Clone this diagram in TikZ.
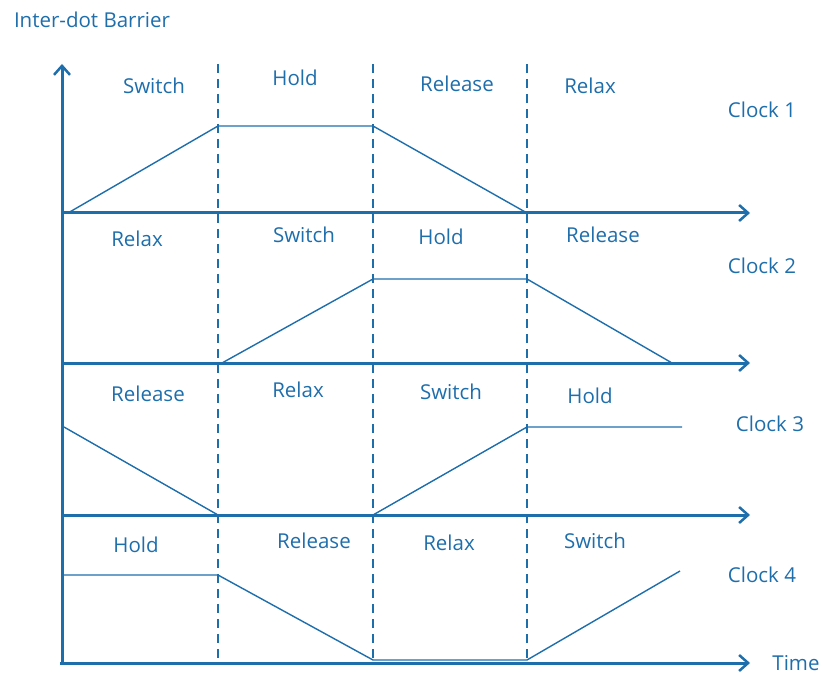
\documentclass[tikz,border=0pt]{standalone}
\usepackage{fontspec}
\setmainfont{Open Sans}
\usetikzlibrary{arrows.meta}
\definecolor{barrierblue}{RGB}{30,110,172}

\begin{document}
\begin{tikzpicture}[x=1pt,y=-1pt,
    axis/.style={barrierblue, line width=3pt, -{Straight Barb[length=9pt,width=16pt,line width=2.5pt]}},
    divider/.style={barrierblue, line width=1.8pt, dash pattern=on 9pt off 6pt},
    barrier/.style={barrierblue, line width=1.4pt},
    phase/.style={text=barrierblue, font=\fontsize{20.5}{24}\selectfont},
    clocklabel/.style={text=barrierblue, font=\fontsize{20.5}{24}\selectfont}]
    \useasboundingbox (0,0) rectangle (822,676);

    % axes
    \coordinate (origin) at (62,665);
    \coordinate (top) at (62,64);
    \coordinate (a1) at (62,213);
    \coordinate (a2) at (62,363);
    \coordinate (a3) at (62,515);
    \coordinate (e1) at (750,213);
    \coordinate (e2) at (750,363);
    \coordinate (e3) at (750,515);
    \coordinate (e4) at (750,663);
    \draw[axis] (origin) -- (top);
    \draw[axis] (a1) -- (e1);
    \draw[axis] (a2) -- (e2);
    \draw[axis] (a3) -- (e3);
    \draw[axis] (60,663) -- (e4);

    % phase dividers
    \coordinate (d1t) at (218,64);
    \coordinate (d1b) at (218,663);
    \coordinate (d2t) at (373,64);
    \coordinate (d2b) at (373,663);
    \coordinate (d3t) at (527,64);
    \coordinate (d3b) at (527,663);
    \draw[divider] (d1t) -- (d1b);
    \draw[divider] (d2t) -- (d2b);
    \draw[divider] (d3t) -- (d3b);

    % clock 1
    \coordinate (c1a) at (68,213);
    \coordinate (c1b) at (218,126);
    \coordinate (c1c) at (373,126);
    \coordinate (c1d) at (527,213);
    \draw[barrier] (c1a) -- (c1b) -- (c1c) -- (c1d);

    % clock 2
    \coordinate (c2a) at (222,363);
    \coordinate (c2b) at (373,279);
    \coordinate (c2c) at (527,279);
    \coordinate (c2d) at (672,363);
    \draw[barrier] (c2a) -- (c2b) -- (c2c) -- (c2d);

    % clock 3
    \coordinate (c3a) at (64,427);
    \coordinate (c3b) at (218,515);
    \coordinate (c3c) at (373,515);
    \coordinate (c3d) at (527,427);
    \coordinate (c3e) at (682,427);
    \draw[barrier] (c3a) -- (c3b) -- (c3c) -- (c3d) -- (c3e);

    % clock 4
    \coordinate (c4a) at (64,575);
    \coordinate (c4b) at (218,575);
    \coordinate (c4c) at (373,660);
    \coordinate (c4d) at (527,660);
    \coordinate (c4e) at (680,571);
    \draw[barrier] (c4a) -- (c4b) -- (c4c) -- (c4d) -- (c4e);

    % labels
    \node[phase] (ylabel) at (92,20) {Inter-dot Barrier};
    \node[phase] (xlabel) at (796,663) {Time};

    \node[phase] (p11) at (154,86) {Switch};
    \node[phase] (p12) at (295,78) {Hold};
    \node[phase] (p13) at (457,84) {Release};
    \node[phase] (p14) at (590,86) {Relax};
    \node[clocklabel] (clk1) at (762,110) {Clock 1};

    \node[phase] (p21) at (137,239) {Relax};
    \node[phase] (p22) at (304,235) {Switch};
    \node[phase] (p23) at (441,237) {Hold};
    \node[phase] (p24) at (603,235) {Release};
    \node[clocklabel] (clk2) at (762,266) {Clock 2};

    \node[phase] (p31) at (148,394) {Release};
    \node[phase] (p32) at (298,390) {Relax};
    \node[phase] (p33) at (451,392) {Switch};
    \node[phase] (p34) at (590,396) {Hold};
    \node[clocklabel] (clk3) at (770,424) {Clock 3};

    \node[phase] (p41) at (136,545) {Hold};
    \node[phase] (p42) at (314,541) {Release};
    \node[phase] (p43) at (449,543) {Relax};
    \node[phase] (p44) at (595,541) {Switch};
    \node[clocklabel] (clk4) at (762,575) {Clock 4};
\end{tikzpicture}
\end{document}
